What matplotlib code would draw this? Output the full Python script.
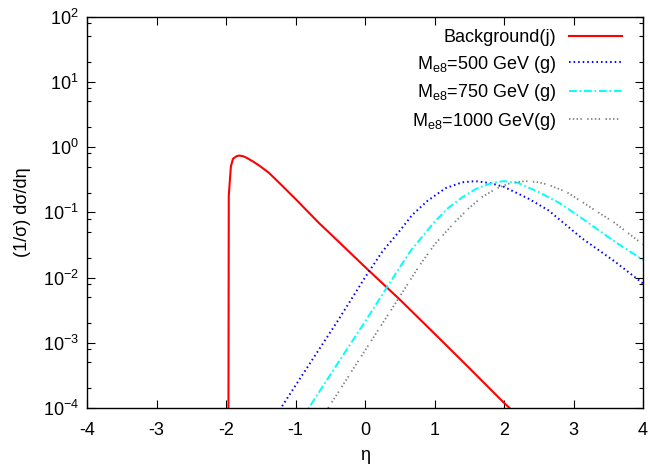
import matplotlib
matplotlib.use("Agg")
import matplotlib.pyplot as plt
from matplotlib.ticker import LogFormatterMathtext, FixedLocator, NullFormatter

plt.rcParams['font.family'] = ['Liberation Sans', 'DejaVu Sans']
plt.rcParams['mathtext.fontset'] = 'custom'
plt.rcParams['mathtext.rm'] = 'Liberation Sans'
plt.rcParams['mathtext.it'] = 'Liberation Sans:italic'
plt.rcParams['axes.unicode_minus'] = False

# ---------------- data ----------------
bkg_eta = [-1.965, -1.96, -1.93, -1.90, -1.85, -1.81, -1.75, -1.70, -1.60, -1.50,
           -1.38, -1.2, -1.0, -0.66, -0.5, 0.0, 0.5, 1.0, 1.5, 2.0, 2.08, 2.14]
bkg_val = [6e-5, 0.18, 0.50, 0.66, 0.72, 0.74, 0.72, 0.68, 0.59, 0.50,
           0.40, 0.26, 0.16, 0.068, 0.047, 0.0145, 0.0046, 0.00138, 0.00041,
           0.00012, 1.0e-4, 8.5e-5]

m500_eta = [-1.3, -1.21, -0.8, -0.4, 0.0, 0.25, 0.5, 0.68, 0.9, 1.16, 1.4,
            1.59, 1.8, 2.0, 2.35, 2.64, 3.12, 3.6, 4.0]
m500_val = [7.1e-5, 1.0e-4, 4.7e-4, 2.1e-3, 1.0e-2, 2.5e-2, 5.2e-2, 9.1e-2, 0.15,
            0.234, 0.288, 0.30, 0.28, 0.245, 0.162, 0.107, 0.040, 0.0174, 0.0081]

m750_eta = [-0.9, -0.81, -0.4, 0.0, 0.49, 0.66, 0.92, 1.0, 1.2, 1.4, 1.6, 1.83,
            2.0, 2.2, 2.5, 2.8, 3.12, 3.6, 4.0]
m750_val = [7.1e-5, 1.0e-4, 4.7e-4, 2.1e-3, 1.38e-2, 2.6e-2, 5.6e-2, 7.1e-2, 0.117,
            0.170, 0.229, 0.282, 0.30, 0.282, 0.204, 0.138, 0.081, 0.035, 0.0186]

m1000_eta = [-0.62, -0.53, 0.0, 0.5, 0.77, 1.0, 1.3, 1.5, 1.68, 1.9, 2.1,
             2.31, 2.5, 2.64, 2.9, 3.12, 3.4, 3.6, 4.0]
m1000_val = [7.1e-5, 1.0e-4, 7.6e-4, 5.1e-3, 1.45e-2, 3.2e-2, 7.2e-2, 0.117, 0.17,
             0.234, 0.282, 0.30, 0.288, 0.263, 0.204, 0.145, 0.093, 0.068, 0.032]

labels = ['Background(j)',
          r'$\mathregular{M_{e8}}$=500 GeV (g)',
          r'$\mathregular{M_{e8}}$=750 GeV (g)',
          r'$\mathregular{M_{e8}}$=1000 GeV(g)']

x_ticks = [-4, -3, -2, -1, 0, 1, 2, 3, 4]
y_ticks = [1e-4, 1e-3, 1e-2, 1e-1, 1e0, 1e1, 1e2]
y_minor = [m * d for d in [1e-4, 1e-3, 1e-2, 1e-1, 1e0, 1e1] for m in (2, 5, 8)]

# ---------------- figure ----------------
fig = plt.figure(figsize=(6.5, 4.71), dpi=100)
ax = fig.add_axes([87/650, 1-408/471, (643-87)/650, (408-16.5)/471])

ax.plot(bkg_eta, bkg_val, color='#ff0000', lw=1.5, label=labels[0])
ax.plot(m500_eta, m500_val, color='#0000ff', lw=1.4,
        dashes=(0.8, 1.55), label=labels[1])
ax.plot(m750_eta, m750_val, color='#00ffff', lw=1.4,
        dashes=(4.0, 1.4, 0.9, 1.4), label=labels[2])
ax.plot(m1000_eta, m1000_val, color='#808080', lw=1.3,
        dashes=(0.8, 1.3, 0.8, 1.3, 0.8, 1.3, 0.8, 3.0), label=labels[3])

ax.set_yscale('log')
ax.set_xlim(-4, 4)
ax.set_ylim(1e-4, 1e2)
ax.xaxis.set_major_locator(FixedLocator(x_ticks))
ax.yaxis.set_major_locator(FixedLocator(y_ticks))
ax.yaxis.set_minor_locator(FixedLocator(y_minor))
ax.yaxis.set_minor_formatter(NullFormatter())
ax.yaxis.set_major_formatter(LogFormatterMathtext())

ax.tick_params(which='both', direction='in', top=True, right=True, labelsize=13)
ax.tick_params(which='major', length=6, width=0.8)
ax.tick_params(which='minor', length=3, width=0.8)
ax.tick_params(axis='x', pad=10)
ax.tick_params(axis='y', pad=6)
for s in ax.spines.values():
    s.set_linewidth(1.0)

ax.set_xlabel('η', fontsize=13, va='center')
ax.set_ylabel('(1/σ) dσ/dη', fontsize=13, va='center')
ax.xaxis.set_label_coords(0.5, (408-455)/391.5)
ax.yaxis.set_label_coords((22.7-87)/556, 0.5)

leg = ax.legend(loc='upper right', bbox_to_anchor=((621.7-87)/556, 1 - (29-16.5)/391.5),
                frameon=False, markerfirst=False, fontsize=13,
                handlelength=2.9, handletextpad=0.75, labelspacing=0.42,
                borderaxespad=0, borderpad=0)
for t in leg.get_texts():
    t.set_ha('right')

fig.savefig('out.png', dpi=100)
